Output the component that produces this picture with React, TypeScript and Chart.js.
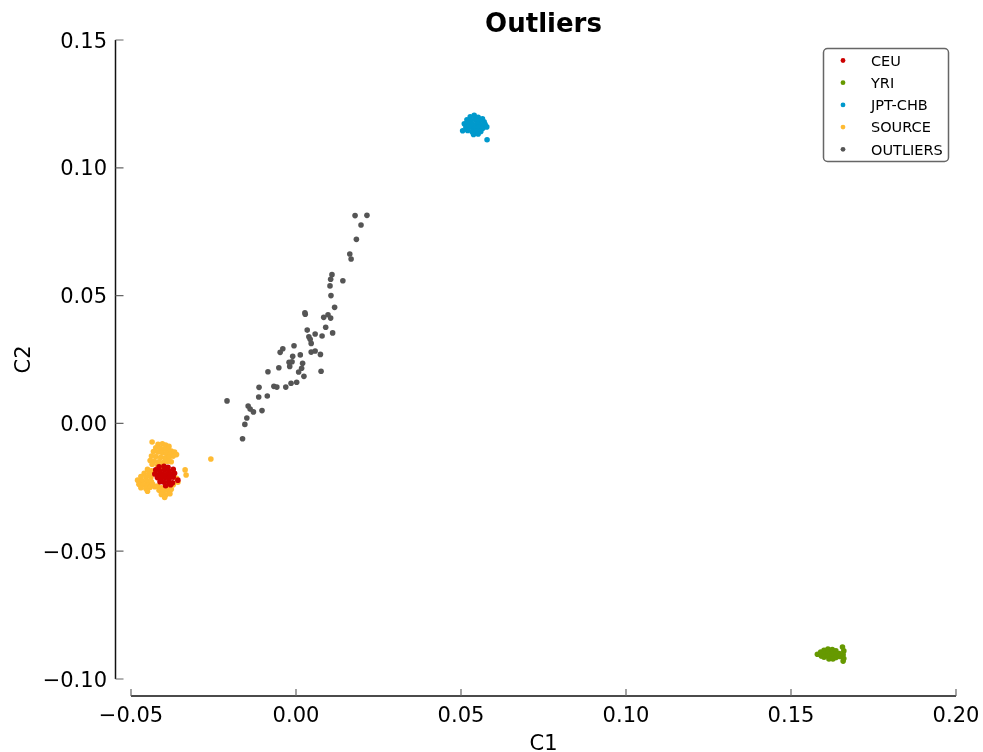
import React, { useEffect, useRef } from "react";
import { Chart, registerables } from "chart.js";

Chart.register(...registerables);

const TITLE = "Outliers";
const X_LABEL = "C1";
const Y_LABEL = "C2";
const X_TICKS = [-0.05, 0.0, 0.05, 0.1, 0.15, 0.2];
const Y_TICKS = [-0.1, -0.05, 0.0, 0.05, 0.1, 0.15];
const X_TICK_LABELS = ["\u22120.05", "0.00", "0.05", "0.10", "0.15", "0.20"];
const Y_TICK_LABELS = ["\u22120.10", "\u22120.05", "0.00", "0.05", "0.10", "0.15"];

const SERIES_NAMES = ["CEU", "YRI", "JPT-CHB", "SOURCE", "OUTLIERS"];
const SERIES_COLORS = ["#cc0000", "#669900", "#0099cc", "#ffbb33", "#555555"];

const CEU: number[][] = [
  [-0.0415, -0.017], [-0.04, -0.0168], [-0.0388, -0.0172],
  [-0.0425, -0.0182], [-0.0412, -0.0185], [-0.0398, -0.0182], [-0.0385, -0.0186], [-0.0372, -0.018],
  [-0.0428, -0.0198], [-0.0416, -0.02], [-0.0404, -0.0198], [-0.0392, -0.02], [-0.038, -0.0198], [-0.0368, -0.0195],
  [-0.042, -0.0212], [-0.0408, -0.0215], [-0.0396, -0.0212], [-0.0384, -0.0215], [-0.0372, -0.021], [-0.0358, -0.0222],
  [-0.0412, -0.0228], [-0.04, -0.023], [-0.0386, -0.0228], [-0.0374, -0.0232],
  [-0.0395, -0.0244], [-0.038, -0.024],
];

const YRI: number[][] = [
  [0.158, -0.0903], [0.159, -0.0895], [0.1592, -0.091],
  [0.16, -0.0888], [0.1603, -0.09], [0.16, -0.0915],
  [0.1612, -0.0883], [0.1614, -0.0896], [0.1612, -0.091], [0.1615, -0.0922],
  [0.1625, -0.0885], [0.1626, -0.0898], [0.1624, -0.0912], [0.1627, -0.0922],
  [0.1636, -0.089], [0.1638, -0.0903], [0.1636, -0.0916],
  [0.1646, -0.09], [0.1648, -0.0912],
  [0.1656, -0.0875], [0.166, -0.089], [0.1658, -0.0905], [0.166, -0.092], [0.1658, -0.093],
];

const JPT_CHB: number[][] = [
  [0.0528, 0.12], [0.054, 0.1205], [0.0552, 0.1198], [0.0565, 0.1192],
  [0.0518, 0.1188], [0.053, 0.1186], [0.0543, 0.1188], [0.0556, 0.1184], [0.057, 0.118],
  [0.051, 0.1172], [0.0522, 0.1175], [0.0535, 0.117], [0.0548, 0.1172], [0.056, 0.1168], [0.0573, 0.117],
  [0.0515, 0.1158], [0.0528, 0.116], [0.054, 0.1156], [0.0553, 0.1158], [0.0566, 0.1155], [0.0578, 0.116],
  [0.0505, 0.1145], [0.052, 0.1146], [0.0533, 0.1142], [0.0546, 0.1145], [0.056, 0.1142],
  [0.0538, 0.113], [0.0552, 0.1132],
  [0.0579, 0.111],
];

const SOURCE: number[][] = [
  [-0.0436, -0.0073],
  [-0.0418, -0.0082], [-0.0405, -0.008], [-0.0395, -0.0085], [-0.0385, -0.009],
  [-0.0425, -0.0095], [-0.041, -0.0098], [-0.0398, -0.01], [-0.0388, -0.0102], [-0.0378, -0.0108],
  [-0.0432, -0.011], [-0.0418, -0.0112], [-0.0405, -0.0115], [-0.0392, -0.0118], [-0.038, -0.012], [-0.0368, -0.0112],
  [-0.0438, -0.0128], [-0.0425, -0.013], [-0.041, -0.0133], [-0.0396, -0.0135], [-0.0384, -0.0132], [-0.0372, -0.0128], [-0.0362, -0.0122],
  [-0.0442, -0.0145], [-0.043, -0.0148], [-0.0416, -0.015], [-0.0402, -0.0152], [-0.039, -0.0148], [-0.0378, -0.015],
  [-0.0436, -0.016], [-0.042, -0.0165], [-0.0405, -0.0168],
  [-0.045, -0.018], [-0.0438, -0.0185], [-0.046, -0.0195], [-0.0445, -0.0198],
  [-0.047, -0.0208], [-0.0455, -0.021], [-0.044, -0.0212],
  [-0.048, -0.0222], [-0.0466, -0.0225], [-0.0452, -0.0226], [-0.0438, -0.0228],
  [-0.0476, -0.0238], [-0.0462, -0.024], [-0.0448, -0.0242], [-0.0434, -0.0238],
  [-0.047, -0.0252], [-0.0455, -0.0255], [-0.0442, -0.025], [-0.0428, -0.0248], [-0.045, -0.0265],
  [-0.042, -0.0245], [-0.0408, -0.0252], [-0.0395, -0.025], [-0.0383, -0.0245], [-0.0372, -0.024],
  [-0.0415, -0.0262], [-0.0402, -0.0265], [-0.039, -0.0262], [-0.0378, -0.0258],
  [-0.0408, -0.0278], [-0.0395, -0.028], [-0.0382, -0.0275], [-0.0398, -0.029],
  [-0.0362, -0.0215], [-0.0358, -0.023],
  [-0.0336, -0.0182], [-0.0333, -0.0202], [-0.0258, -0.0139],
];

const OUTLIERS: number[][] = [
  [0.0179, 0.0813], [0.0215, 0.0814], [0.0197, 0.0776], [0.0183, 0.072], [0.0163, 0.0663], [0.0167, 0.0643],
  [0.0109, 0.0582], [0.0105, 0.0564], [0.0142, 0.0558], [0.0103, 0.0538], [0.0106, 0.05], [0.0117, 0.0454],
  [0.0027, 0.0433], [0.0028, 0.0427], [0.0097, 0.0425], [0.0084, 0.0415], [0.0105, 0.0412], [0.009, 0.0376],
  [0.0034, 0.0365], [0.0111, 0.0354], [0.0058, 0.035], [0.0039, 0.0339], [0.0079, 0.0342], [0.0043, 0.0329],
  [0.0046, 0.0313], [-0.0006, 0.0304], [-0.004, 0.0292], [-0.0048, 0.0278], [0.0046, 0.0279], [0.0058, 0.0283],
  [0.0074, 0.027], [0.0013, 0.0268], [-0.001, 0.0263], [-0.0021, 0.0239], [-0.0012, 0.0241], [0.002, 0.0235],
  [-0.0019, 0.0223], [-0.0052, 0.0218], [0.0017, 0.0216], [0.0008, 0.0201], [-0.0085, 0.0202], [0.0076, 0.0204],
  [0.0024, 0.0184], [0.0002, 0.0161], [-0.0015, 0.0157], [-0.0031, 0.0142], [-0.0067, 0.0145], [-0.0058, 0.0142],
  [-0.0112, 0.0141], [-0.0087, 0.0107], [-0.0113, 0.0103], [-0.0209, 0.0088], [-0.0145, 0.0068], [-0.0139, 0.0056],
  [-0.0129, 0.0045], [-0.0103, 0.005], [-0.0149, 0.0021], [-0.0155, -0.0004], [-0.0162, -0.006],
];

const SERIES_DATA = [CEU, YRI, JPT_CHB, SOURCE, OUTLIERS];

const FONT = "'DejaVu Sans', sans-serif";

const decorPlugin = {
  id: "decor",
  afterDraw(chart: any) {
    const ctx = chart.ctx as CanvasRenderingContext2D;
    const xs = chart.scales.x;
    const ys = chart.scales.y;
    const area = chart.chartArea;
    ctx.save();

    // Spines (offset)
    const ySpineX = area.left - 15.5;
    const xSpineY = area.bottom + 17;
    const yTop = ys.getPixelForValue(Y_TICKS[Y_TICKS.length - 1]);
    const yBot = ys.getPixelForValue(Y_TICKS[0]);
    const xL = xs.getPixelForValue(X_TICKS[0]);
    const xR = xs.getPixelForValue(X_TICKS[X_TICKS.length - 1]);

    ctx.strokeStyle = "#111";
    ctx.lineWidth = 1.5;
    ctx.beginPath();
    ctx.moveTo(ySpineX, yTop);
    ctx.lineTo(ySpineX, yBot);
    ctx.moveTo(xL, xSpineY);
    ctx.lineTo(xR, xSpineY);
    ctx.stroke();

    // Ticks
    ctx.strokeStyle = "#666";
    ctx.lineWidth = 1.2;
    ctx.beginPath();
    Y_TICKS.forEach((v) => {
      const py = ys.getPixelForValue(v);
      ctx.moveTo(ySpineX, py);
      ctx.lineTo(ySpineX + 8, py);
    });
    X_TICKS.forEach((v) => {
      const px = xs.getPixelForValue(v);
      ctx.moveTo(px, xSpineY);
      ctx.lineTo(px, xSpineY - 7);
    });
    ctx.stroke();

    // Tick labels
    ctx.fillStyle = "#000";
    ctx.font = `21px ${FONT}`;
    ctx.textBaseline = "alphabetic";
    ctx.textAlign = "right";
    Y_TICKS.forEach((v, i) => {
      const py = ys.getPixelForValue(v);
      ctx.fillText(Y_TICK_LABELS[i], ySpineX - 8.5, py + 7.6);
    });
    ctx.textAlign = "center";
    X_TICKS.forEach((v, i) => {
      const px = xs.getPixelForValue(v);
      ctx.fillText(X_TICK_LABELS[i], px, xSpineY + 25.5);
    });

    // Axis titles
    ctx.font = `21px ${FONT}`;
    ctx.fillText(X_LABEL, (area.left + area.right) / 2, 750);
    ctx.save();
    ctx.translate(29.5, (area.top + area.bottom) / 2);
    ctx.rotate(-Math.PI / 2);
    ctx.fillText(Y_LABEL, 0, 0);
    ctx.restore();

    // Title
    ctx.font = `bold 26px ${FONT}`;
    ctx.fillText(TITLE, (area.left + area.right) / 2, 31.5);

    // Legend
    const bx = 823.5, by = 48.5, bw = 125, bh = 113, r = 4;
    ctx.fillStyle = "rgba(255,255,255,0.9)";
    ctx.strokeStyle = "#666";
    ctx.lineWidth = 1.5;
    ctx.beginPath();
    ctx.moveTo(bx + r, by);
    ctx.lineTo(bx + bw - r, by);
    ctx.arcTo(bx + bw, by, bx + bw, by + r, r);
    ctx.lineTo(bx + bw, by + bh - r);
    ctx.arcTo(bx + bw, by + bh, bx + bw - r, by + bh, r);
    ctx.lineTo(bx + r, by + bh);
    ctx.arcTo(bx, by + bh, bx, by + bh - r, r);
    ctx.lineTo(bx, by + r);
    ctx.arcTo(bx, by, bx + r, by, r);
    ctx.closePath();
    ctx.fill();
    ctx.stroke();

    ctx.font = `14.5px ${FONT}`;
    ctx.textAlign = "left";
    chart.data.datasets.forEach((ds: any, i: number) => {
      const cy = 60.5 + i * 22.2;
      ctx.fillStyle = ds.backgroundColor;
      ctx.beginPath();
      ctx.arc(843, cy, 2.4, 0, Math.PI * 2);
      ctx.fill();
      ctx.fillStyle = "#000";
      ctx.fillText(ds.label, 871, cy + 5.2);
    });

    ctx.restore();
  },
};

export default function App() {
  const ref = useRef<HTMLCanvasElement | null>(null);

  useEffect(() => {
    document.body.style.margin = "0";
    document.body.style.overflow = "hidden";
    const canvas = ref.current;
    if (!canvas) return;
    const chart = new Chart(canvas, {
      type: "scatter",
      data: {
        datasets: SERIES_NAMES.map((name, i) => ({
          label: name,
          data: SERIES_DATA[i].map((p) => ({ x: p[0], y: p[1] })),
          backgroundColor: SERIES_COLORS[i],
          borderColor: SERIES_COLORS[i],
          borderWidth: 0,
          pointRadius: 2.8,
          pointHoverRadius: 2.8,
        })),
      },
      options: {
        animation: false,
        responsive: false,
        devicePixelRatio: 1,
        layout: { padding: { left: 131, right: 27, top: 40, bottom: 73 } },
        plugins: {
          legend: { display: false },
          title: { display: false },
          tooltip: { enabled: false },
        },
        scales: {
          x: { type: "linear", display: false, min: -0.05, max: 0.2 },
          y: { type: "linear", display: false, min: -0.1, max: 0.15 },
        },
      },
      plugins: [decorPlugin],
    });
    return () => chart.destroy();
  }, []);

  return (
    <canvas
      ref={ref}
      width={983}
      height={752}
      style={{ position: "fixed", left: 0, top: 0, width: 983, height: 752 }}
    />
  );
}
